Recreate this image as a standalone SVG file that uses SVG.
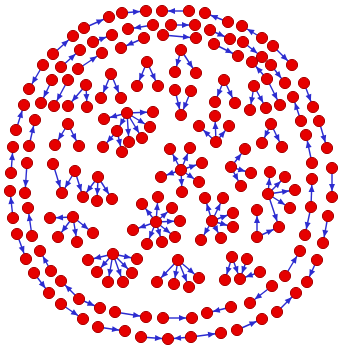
<svg xmlns="http://www.w3.org/2000/svg" width="338" height="349" viewBox="0 0 338 349">
<style>
.e{stroke:#2c2cd0;stroke-width:1.4;fill:none;marker-end:url(#ah)}
.n circle{fill:#e60000;stroke:#a80000;stroke-width:1;r:5.6px}
</style>
<defs>
<marker id="ah" markerUnits="userSpaceOnUse" markerWidth="20" markerHeight="20" orient="auto" overflow="visible" refX="0" refY="0">
<path d="M-13,-3 L-6,0 L-13,3 z" fill="#2c2cd0"/>
</marker>
</defs>
<rect width="338" height="349" fill="#ffffff"/>
<g id="connectors">
<line class="e" x1="122" y1="13" x2="146" y2="11"/>
<line class="e" x1="189" y1="11" x2="162" y2="11"/>
<line class="e" x1="228" y1="22" x2="205" y2="13"/>
<line class="e" x1="262" y1="38" x2="242" y2="26"/>
<line class="e" x1="273" y1="46" x2="292" y2="65"/>
<line class="e" x1="304" y1="83" x2="313" y2="107"/>
<line class="e" x1="319" y1="121" x2="327" y2="148"/>
<line class="e" x1="332" y1="168" x2="332" y2="197"/>
<line class="e" x1="328" y1="216" x2="323" y2="243"/>
<line class="e" x1="317" y1="260" x2="307" y2="282"/>
<line class="e" x1="277" y1="312" x2="296" y2="293"/>
<line class="e" x1="237" y1="330" x2="262" y2="319"/>
<line class="e" x1="191" y1="337" x2="221" y2="333"/>
<line class="e" x1="191" y1="337" x2="168" y2="339"/>
<line class="e" x1="141" y1="337" x2="168" y2="339"/>
<line class="e" x1="98" y1="327" x2="125" y2="331"/>
<line class="e" x1="61" y1="304" x2="83" y2="319"/>
<line class="e" x1="34" y1="273" x2="49" y2="293"/>
<line class="e" x1="17" y1="234" x2="26" y2="259"/>
<line class="e" x1="13" y1="218" x2="10" y2="191"/>
<line class="e" x1="11" y1="173" x2="13" y2="147"/>
<line class="e" x1="16" y1="130" x2="24" y2="105"/>
<line class="e" x1="43" y1="65" x2="29" y2="89"/>
<line class="e" x1="53" y1="54" x2="73" y2="36"/>
<line class="e" x1="84" y1="28" x2="109" y2="17"/>
<line class="e" x1="153" y1="25" x2="128" y2="29"/>
<line class="e" x1="171" y1="25" x2="195" y2="25"/>
<line class="e" x1="210" y1="30" x2="230" y2="39"/>
<line class="e" x1="243" y1="42" x2="262" y2="57"/>
<line class="e" x1="271" y1="65" x2="285" y2="83"/>
<line class="e" x1="267" y1="79" x2="252" y2="62"/>
<line class="e" x1="267" y1="79" x2="280" y2="105"/>
<line class="e" x1="301" y1="121" x2="293" y2="97"/>
<line class="e" x1="312" y1="163" x2="306" y2="135"/>
<line class="e" x1="311" y1="207" x2="312" y2="179"/>
<line class="e" x1="311" y1="207" x2="305" y2="235"/>
<line class="e" x1="285" y1="276" x2="300" y2="251"/>
<line class="e" x1="272" y1="286" x2="250" y2="303"/>
<line class="e" x1="231" y1="307" x2="207" y2="313"/>
<line class="e" x1="163" y1="318" x2="192" y2="318"/>
<line class="e" x1="115" y1="312" x2="146" y2="317"/>
<line class="e" x1="79" y1="299" x2="61" y2="281"/>
<line class="e" x1="79" y1="299" x2="100" y2="308"/>
<line class="e" x1="51" y1="271" x2="40" y2="251"/>
<line class="e" x1="32" y1="236" x2="28" y2="208"/>
<line class="e" x1="27" y1="163" x2="25" y2="193"/>
<line class="e" x1="29" y1="146" x2="35" y2="120"/>
<line class="e" x1="52" y1="80" x2="41" y2="103"/>
<line class="e" x1="61" y1="67" x2="80" y2="50"/>
<line class="e" x1="93" y1="42" x2="112" y2="35"/>
<line class="e" x1="144" y1="38" x2="121" y2="48"/>
<line class="e" x1="163" y1="35" x2="196" y2="38"/>
<line class="e" x1="214" y1="44" x2="238" y2="56"/>
<line class="e" x1="78" y1="69" x2="102" y2="53"/>
<line class="e" x1="68" y1="80" x2="54" y2="106"/>
<line class="e" x1="86" y1="85" x2="68" y2="106"/>
<line class="e" x1="86" y1="85" x2="87" y2="107"/>
<line class="e" x1="147" y1="62" x2="137" y2="86"/>
<line class="e" x1="147" y1="62" x2="158" y2="86"/>
<line class="e" x1="111" y1="74" x2="101" y2="98"/>
<line class="e" x1="111" y1="74" x2="121" y2="98"/>
<line class="e" x1="181" y1="50" x2="175" y2="72"/>
<line class="e" x1="181" y1="50" x2="196" y2="73"/>
<line class="e" x1="224" y1="80" x2="215" y2="102"/>
<line class="e" x1="224" y1="80" x2="235" y2="103"/>
<line class="e" x1="254" y1="86" x2="250" y2="110"/>
<line class="e" x1="254" y1="86" x2="266" y2="108"/>
<line class="e" x1="175" y1="90" x2="181" y2="115"/>
<line class="e" x1="191" y1="91" x2="181" y2="115"/>
<line class="e" x1="127" y1="113" x2="104" y2="119"/>
<line class="e" x1="127" y1="113" x2="153" y2="112"/>
<line class="e" x1="127" y1="113" x2="150" y2="127"/>
<line class="e" x1="127" y1="113" x2="142" y2="138"/>
<line class="e" x1="127" y1="113" x2="129" y2="142"/>
<line class="e" x1="127" y1="113" x2="117" y2="131"/>
<line class="e" x1="117" y1="131" x2="103" y2="147"/>
<line class="e" x1="117" y1="131" x2="122" y2="152"/>
<line class="e" x1="68" y1="124" x2="55" y2="145"/>
<line class="e" x1="68" y1="124" x2="79" y2="146"/>
<line class="e" x1="216" y1="142" x2="199" y2="126"/>
<line class="e" x1="216" y1="142" x2="215" y2="116"/>
<line class="e" x1="216" y1="142" x2="229" y2="126"/>
<line class="e" x1="271" y1="124" x2="262" y2="143"/>
<line class="e" x1="271" y1="124" x2="282" y2="147"/>
<line class="e" x1="231" y1="167" x2="245" y2="149"/>
<line class="e" x1="231" y1="167" x2="251" y2="173"/>
<line class="e" x1="231" y1="167" x2="241" y2="186"/>
<line class="e" x1="181" y1="170" x2="170" y2="149"/>
<line class="e" x1="181" y1="170" x2="190" y2="148"/>
<line class="e" x1="181" y1="170" x2="202" y2="163"/>
<line class="e" x1="181" y1="170" x2="199" y2="182"/>
<line class="e" x1="181" y1="170" x2="182" y2="192"/>
<line class="e" x1="181" y1="170" x2="161" y2="177"/>
<line class="e" x1="53" y1="164" x2="62" y2="193"/>
<line class="e" x1="75" y1="171" x2="62" y2="193"/>
<line class="e" x1="75" y1="171" x2="83" y2="197"/>
<line class="e" x1="98" y1="177" x2="83" y2="197"/>
<line class="e" x1="98" y1="177" x2="97" y2="201"/>
<line class="e" x1="98" y1="177" x2="112" y2="199"/>
<line class="e" x1="268" y1="194" x2="270" y2="172"/>
<line class="e" x1="268" y1="194" x2="285" y2="177"/>
<line class="e" x1="268" y1="194" x2="295" y2="190"/>
<line class="e" x1="268" y1="194" x2="290" y2="208"/>
<line class="e" x1="268" y1="194" x2="279" y2="227"/>
<line class="e" x1="257" y1="237" x2="257" y2="210"/>
<line class="e" x1="257" y1="237" x2="279" y2="227"/>
<line class="e" x1="73" y1="217" x2="50" y2="218"/>
<line class="e" x1="73" y1="217" x2="58" y2="237"/>
<line class="e" x1="73" y1="217" x2="77" y2="242"/>
<line class="e" x1="73" y1="217" x2="93" y2="233"/>
<line class="e" x1="156" y1="222" x2="142" y2="204"/>
<line class="e" x1="156" y1="222" x2="158" y2="197"/>
<line class="e" x1="156" y1="222" x2="172" y2="208"/>
<line class="e" x1="156" y1="222" x2="180" y2="221"/>
<line class="e" x1="156" y1="222" x2="175" y2="237"/>
<line class="e" x1="156" y1="222" x2="162" y2="242"/>
<line class="e" x1="156" y1="222" x2="147" y2="244"/>
<line class="e" x1="156" y1="222" x2="133" y2="230"/>
<line class="e" x1="212" y1="221" x2="205" y2="198"/>
<line class="e" x1="212" y1="221" x2="223" y2="198"/>
<line class="e" x1="212" y1="221" x2="233" y2="213"/>
<line class="e" x1="212" y1="221" x2="233" y2="227"/>
<line class="e" x1="212" y1="221" x2="221" y2="238"/>
<line class="e" x1="212" y1="221" x2="201" y2="240"/>
<line class="e" x1="113" y1="254" x2="88" y2="260"/>
<line class="e" x1="113" y1="254" x2="97" y2="272"/>
<line class="e" x1="113" y1="254" x2="108" y2="282"/>
<line class="e" x1="113" y1="254" x2="123" y2="282"/>
<line class="e" x1="113" y1="254" x2="132" y2="273"/>
<line class="e" x1="113" y1="254" x2="137" y2="259"/>
<line class="e" x1="178" y1="260" x2="157" y2="282"/>
<line class="e" x1="178" y1="260" x2="174" y2="284"/>
<line class="e" x1="178" y1="260" x2="189" y2="287"/>
<line class="e" x1="178" y1="260" x2="199" y2="278"/>
<line class="e" x1="232" y1="257" x2="225" y2="280"/>
<line class="e" x1="232" y1="257" x2="240" y2="279"/>
<line class="e" x1="247" y1="259" x2="240" y2="279"/>
<line class="e" x1="260" y1="272" x2="240" y2="279"/>
</g>
<g id="nodes" class="n">
<g id="a1"><circle cx="122" cy="13" r="5.6"/></g>
<g id="a2"><circle cx="146" cy="11" r="5.6"/></g>
<g id="a3"><circle cx="162" cy="11" r="5.6"/></g>
<g id="a4"><circle cx="189" cy="11" r="5.6"/></g>
<g id="a5"><circle cx="205" cy="13" r="5.6"/></g>
<g id="a6"><circle cx="228" cy="22" r="5.6"/></g>
<g id="a7"><circle cx="242" cy="26" r="5.6"/></g>
<g id="a8"><circle cx="262" cy="38" r="5.6"/></g>
<g id="a9"><circle cx="273" cy="46" r="5.6"/></g>
<g id="a10"><circle cx="292" cy="65" r="5.6"/></g>
<g id="a11"><circle cx="304" cy="83" r="5.6"/></g>
<g id="a12"><circle cx="313" cy="107" r="5.6"/></g>
<g id="a13"><circle cx="319" cy="121" r="5.6"/></g>
<g id="a14"><circle cx="327" cy="148" r="5.6"/></g>
<g id="a15"><circle cx="332" cy="168" r="5.6"/></g>
<g id="a16"><circle cx="332" cy="197" r="5.6"/></g>
<g id="a17"><circle cx="328" cy="216" r="5.6"/></g>
<g id="a18"><circle cx="323" cy="243" r="5.6"/></g>
<g id="a19"><circle cx="317" cy="260" r="5.6"/></g>
<g id="a20"><circle cx="307" cy="282" r="5.6"/></g>
<g id="a21"><circle cx="296" cy="293" r="5.6"/></g>
<g id="a22"><circle cx="277" cy="312" r="5.6"/></g>
<g id="a23"><circle cx="262" cy="319" r="5.6"/></g>
<g id="a24"><circle cx="237" cy="330" r="5.6"/></g>
<g id="a25"><circle cx="221" cy="333" r="5.6"/></g>
<g id="a26"><circle cx="191" cy="337" r="5.6"/></g>
<g id="a27"><circle cx="168" cy="339" r="5.6"/></g>
<g id="a28"><circle cx="141" cy="337" r="5.6"/></g>
<g id="a29"><circle cx="125" cy="331" r="5.6"/></g>
<g id="a30"><circle cx="98" cy="327" r="5.6"/></g>
<g id="a31"><circle cx="83" cy="319" r="5.6"/></g>
<g id="a32"><circle cx="61" cy="304" r="5.6"/></g>
<g id="a33"><circle cx="49" cy="293" r="5.6"/></g>
<g id="a34"><circle cx="34" cy="273" r="5.6"/></g>
<g id="a35"><circle cx="26" cy="259" r="5.6"/></g>
<g id="a36"><circle cx="17" cy="234" r="5.6"/></g>
<g id="a37"><circle cx="13" cy="218" r="5.6"/></g>
<g id="a38"><circle cx="10" cy="191" r="5.6"/></g>
<g id="a39"><circle cx="11" cy="173" r="5.6"/></g>
<g id="a40"><circle cx="13" cy="147" r="5.6"/></g>
<g id="a41"><circle cx="16" cy="130" r="5.6"/></g>
<g id="a42"><circle cx="24" cy="105" r="5.6"/></g>
<g id="a43"><circle cx="29" cy="89" r="5.6"/></g>
<g id="a44"><circle cx="43" cy="65" r="5.6"/></g>
<g id="a45"><circle cx="53" cy="54" r="5.6"/></g>
<g id="a46"><circle cx="73" cy="36" r="5.6"/></g>
<g id="a47"><circle cx="84" cy="28" r="5.6"/></g>
<g id="a48"><circle cx="109" cy="17" r="5.6"/></g>
<g id="b1"><circle cx="128" cy="29" r="5.6"/></g>
<g id="b2"><circle cx="153" cy="25" r="5.6"/></g>
<g id="b3"><circle cx="171" cy="25" r="5.6"/></g>
<g id="b4"><circle cx="195" cy="25" r="5.6"/></g>
<g id="b5"><circle cx="210" cy="30" r="5.6"/></g>
<g id="b6"><circle cx="230" cy="39" r="5.6"/></g>
<g id="b7"><circle cx="243" cy="42" r="5.6"/></g>
<g id="b8"><circle cx="262" cy="57" r="5.6"/></g>
<g id="b9"><circle cx="271" cy="65" r="5.6"/></g>
<g id="b10"><circle cx="285" cy="83" r="5.6"/></g>
<g id="b11"><circle cx="252" cy="62" r="5.6"/></g>
<g id="b12"><circle cx="267" cy="79" r="5.6"/></g>
<g id="b13"><circle cx="280" cy="105" r="5.6"/></g>
<g id="b14"><circle cx="293" cy="97" r="5.6"/></g>
<g id="b15"><circle cx="301" cy="121" r="5.6"/></g>
<g id="b16"><circle cx="306" cy="135" r="5.6"/></g>
<g id="b17"><circle cx="312" cy="163" r="5.6"/></g>
<g id="b18"><circle cx="312" cy="179" r="5.6"/></g>
<g id="b19"><circle cx="311" cy="207" r="5.6"/></g>
<g id="b20"><circle cx="305" cy="235" r="5.6"/></g>
<g id="b21"><circle cx="300" cy="251" r="5.6"/></g>
<g id="b22"><circle cx="285" cy="276" r="5.6"/></g>
<g id="b23"><circle cx="272" cy="286" r="5.6"/></g>
<g id="b24"><circle cx="250" cy="303" r="5.6"/></g>
<g id="b25"><circle cx="231" cy="307" r="5.6"/></g>
<g id="b26"><circle cx="207" cy="313" r="5.6"/></g>
<g id="b27"><circle cx="192" cy="318" r="5.6"/></g>
<g id="b28"><circle cx="163" cy="318" r="5.6"/></g>
<g id="b29"><circle cx="146" cy="317" r="5.6"/></g>
<g id="b30"><circle cx="115" cy="312" r="5.6"/></g>
<g id="b31"><circle cx="100" cy="308" r="5.6"/></g>
<g id="b32"><circle cx="79" cy="299" r="5.6"/></g>
<g id="b33"><circle cx="61" cy="281" r="5.6"/></g>
<g id="b34"><circle cx="51" cy="271" r="5.6"/></g>
<g id="b35"><circle cx="40" cy="251" r="5.6"/></g>
<g id="b36"><circle cx="32" cy="236" r="5.6"/></g>
<g id="b37"><circle cx="28" cy="208" r="5.6"/></g>
<g id="b38"><circle cx="25" cy="193" r="5.6"/></g>
<g id="b39"><circle cx="27" cy="163" r="5.6"/></g>
<g id="b40"><circle cx="29" cy="146" r="5.6"/></g>
<g id="b41"><circle cx="35" cy="120" r="5.6"/></g>
<g id="b42"><circle cx="41" cy="103" r="5.6"/></g>
<g id="b43"><circle cx="52" cy="80" r="5.6"/></g>
<g id="b44"><circle cx="61" cy="67" r="5.6"/></g>
<g id="b45"><circle cx="80" cy="50" r="5.6"/></g>
<g id="b46"><circle cx="93" cy="42" r="5.6"/></g>
<g id="b47"><circle cx="112" cy="35" r="5.6"/></g>
<g id="c1"><circle cx="144" cy="38" r="5.6"/></g>
<g id="c2"><circle cx="121" cy="48" r="5.6"/></g>
<g id="c3"><circle cx="163" cy="35" r="5.6"/></g>
<g id="c4"><circle cx="196" cy="38" r="5.6"/></g>
<g id="c5"><circle cx="214" cy="44" r="5.6"/></g>
<g id="c6"><circle cx="238" cy="56" r="5.6"/></g>
<g id="c7"><circle cx="78" cy="69" r="5.6"/></g>
<g id="c8"><circle cx="102" cy="53" r="5.6"/></g>
<g id="c9"><circle cx="68" cy="80" r="5.6"/></g>
<g id="c10"><circle cx="54" cy="106" r="5.6"/></g>
<g id="c11"><circle cx="86" cy="85" r="5.6"/></g>
<g id="c12"><circle cx="68" cy="106" r="5.6"/></g>
<g id="c13"><circle cx="87" cy="107" r="5.6"/></g>
<g id="t1a"><circle cx="147" cy="62" r="5.6"/></g>
<g id="t1b"><circle cx="137" cy="86" r="5.6"/></g>
<g id="t1c"><circle cx="158" cy="86" r="5.6"/></g>
<g id="t2a"><circle cx="111" cy="74" r="5.6"/></g>
<g id="t2b"><circle cx="101" cy="98" r="5.6"/></g>
<g id="t2c"><circle cx="121" cy="98" r="5.6"/></g>
<g id="t3a"><circle cx="181" cy="50" r="5.6"/></g>
<g id="t3b"><circle cx="175" cy="72" r="5.6"/></g>
<g id="t3c"><circle cx="196" cy="73" r="5.6"/></g>
<g id="t4a"><circle cx="224" cy="80" r="5.6"/></g>
<g id="t4b"><circle cx="215" cy="102" r="5.6"/></g>
<g id="t4c"><circle cx="235" cy="103" r="5.6"/></g>
<g id="t5a"><circle cx="254" cy="86" r="5.6"/></g>
<g id="t5b"><circle cx="250" cy="110" r="5.6"/></g>
<g id="t5c"><circle cx="266" cy="108" r="5.6"/></g>
<g id="t6a"><circle cx="175" cy="90" r="5.6"/></g>
<g id="t6b"><circle cx="191" cy="91" r="5.6"/></g>
<g id="t6c"><circle cx="181" cy="115" r="5.6"/></g>
<g id="s7a"><circle cx="127" cy="113" r="5.6"/></g>
<g id="s7b"><circle cx="104" cy="119" r="5.6"/></g>
<g id="s7c"><circle cx="153" cy="112" r="5.6"/></g>
<g id="s7d"><circle cx="150" cy="127" r="5.6"/></g>
<g id="s7e"><circle cx="142" cy="138" r="5.6"/></g>
<g id="s7f"><circle cx="129" cy="142" r="5.6"/></g>
<g id="s7g"><circle cx="117" cy="131" r="5.6"/></g>
<g id="s7h"><circle cx="103" cy="147" r="5.6"/></g>
<g id="s7i"><circle cx="122" cy="152" r="5.6"/></g>
<g id="t8a"><circle cx="68" cy="124" r="5.6"/></g>
<g id="t8b"><circle cx="55" cy="145" r="5.6"/></g>
<g id="t8c"><circle cx="79" cy="146" r="5.6"/></g>
<g id="s9a"><circle cx="216" cy="142" r="5.6"/></g>
<g id="s9b"><circle cx="199" cy="126" r="5.6"/></g>
<g id="s9c"><circle cx="215" cy="116" r="5.6"/></g>
<g id="s9d"><circle cx="229" cy="126" r="5.6"/></g>
<g id="t10a"><circle cx="271" cy="124" r="5.6"/></g>
<g id="t10b"><circle cx="262" cy="143" r="5.6"/></g>
<g id="t10c"><circle cx="282" cy="147" r="5.6"/></g>
<g id="s11a"><circle cx="231" cy="167" r="5.6"/></g>
<g id="s11b"><circle cx="245" cy="149" r="5.6"/></g>
<g id="s11c"><circle cx="251" cy="173" r="5.6"/></g>
<g id="s11d"><circle cx="241" cy="186" r="5.6"/></g>
<g id="s12a"><circle cx="181" cy="170" r="5.6"/></g>
<g id="s12b"><circle cx="170" cy="149" r="5.6"/></g>
<g id="s12c"><circle cx="190" cy="148" r="5.6"/></g>
<g id="s12d"><circle cx="202" cy="163" r="5.6"/></g>
<g id="s12e"><circle cx="199" cy="182" r="5.6"/></g>
<g id="s12f"><circle cx="182" cy="192" r="5.6"/></g>
<g id="s12g"><circle cx="161" cy="177" r="5.6"/></g>
<g id="z13a"><circle cx="53" cy="164" r="5.6"/></g>
<g id="z13b"><circle cx="62" cy="193" r="5.6"/></g>
<g id="z13c"><circle cx="75" cy="171" r="5.6"/></g>
<g id="z13d"><circle cx="83" cy="197" r="5.6"/></g>
<g id="z13e"><circle cx="98" cy="177" r="5.6"/></g>
<g id="z13f"><circle cx="97" cy="201" r="5.6"/></g>
<g id="z13g"><circle cx="112" cy="199" r="5.6"/></g>
<g id="s14a"><circle cx="268" cy="194" r="5.6"/></g>
<g id="s14b"><circle cx="270" cy="172" r="5.6"/></g>
<g id="s14c"><circle cx="285" cy="177" r="5.6"/></g>
<g id="s14d"><circle cx="295" cy="190" r="5.6"/></g>
<g id="s14e"><circle cx="290" cy="208" r="5.6"/></g>
<g id="s14f"><circle cx="279" cy="227" r="5.6"/></g>
<g id="s14g"><circle cx="257" cy="237" r="5.6"/></g>
<g id="s14h"><circle cx="257" cy="210" r="5.6"/></g>
<g id="s15a"><circle cx="73" cy="217" r="5.6"/></g>
<g id="s15b"><circle cx="50" cy="218" r="5.6"/></g>
<g id="s15c"><circle cx="58" cy="237" r="5.6"/></g>
<g id="s15d"><circle cx="77" cy="242" r="5.6"/></g>
<g id="s15e"><circle cx="93" cy="233" r="5.6"/></g>
<g id="s16a"><circle cx="156" cy="222" r="5.6"/></g>
<g id="s16b"><circle cx="142" cy="204" r="5.6"/></g>
<g id="s16c"><circle cx="158" cy="197" r="5.6"/></g>
<g id="s16d"><circle cx="172" cy="208" r="5.6"/></g>
<g id="s16e"><circle cx="180" cy="221" r="5.6"/></g>
<g id="s16f"><circle cx="175" cy="237" r="5.6"/></g>
<g id="s16g"><circle cx="162" cy="242" r="5.6"/></g>
<g id="s16h"><circle cx="147" cy="244" r="5.6"/></g>
<g id="s16i"><circle cx="133" cy="230" r="5.6"/></g>
<g id="s17a"><circle cx="212" cy="221" r="5.6"/></g>
<g id="s17b"><circle cx="205" cy="198" r="5.6"/></g>
<g id="s17c"><circle cx="223" cy="198" r="5.6"/></g>
<g id="s17d"><circle cx="233" cy="213" r="5.6"/></g>
<g id="s17e"><circle cx="233" cy="227" r="5.6"/></g>
<g id="s17f"><circle cx="221" cy="238" r="5.6"/></g>
<g id="s17g"><circle cx="201" cy="240" r="5.6"/></g>
<g id="s18a"><circle cx="113" cy="254" r="5.6"/></g>
<g id="s18b"><circle cx="88" cy="260" r="5.6"/></g>
<g id="s18c"><circle cx="97" cy="272" r="5.6"/></g>
<g id="s18d"><circle cx="108" cy="282" r="5.6"/></g>
<g id="s18e"><circle cx="123" cy="282" r="5.6"/></g>
<g id="s18f"><circle cx="132" cy="273" r="5.6"/></g>
<g id="s18g"><circle cx="137" cy="259" r="5.6"/></g>
<g id="s19a"><circle cx="178" cy="260" r="5.6"/></g>
<g id="s19b"><circle cx="157" cy="282" r="5.6"/></g>
<g id="s19c"><circle cx="174" cy="284" r="5.6"/></g>
<g id="s19d"><circle cx="189" cy="287" r="5.6"/></g>
<g id="s19e"><circle cx="199" cy="278" r="5.6"/></g>
<g id="t20a"><circle cx="232" cy="257" r="5.6"/></g>
<g id="t20b"><circle cx="247" cy="259" r="5.6"/></g>
<g id="t20c"><circle cx="260" cy="272" r="5.6"/></g>
<g id="t20d"><circle cx="225" cy="280" r="5.6"/></g>
<g id="t20e"><circle cx="240" cy="279" r="5.6"/></g>
</g>
</svg>
